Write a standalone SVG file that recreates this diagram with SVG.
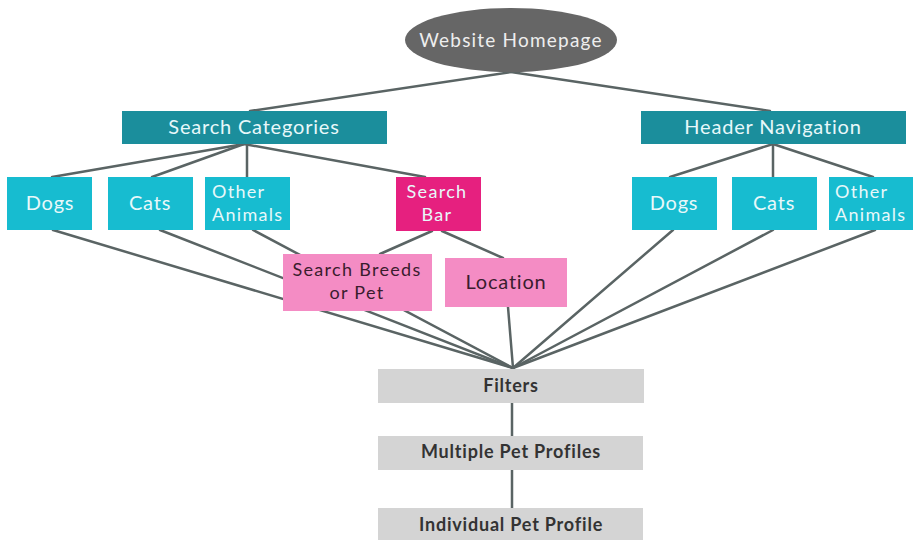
<svg xmlns="http://www.w3.org/2000/svg" width="913" height="540" viewBox="0 0 913 540">
<style>
.t{font-family:Lato,"Open Sans","Liberation Sans",sans-serif;}
.wt{fill:#e8f8fa;font-size:20px;letter-spacing:0.8px;}
.dk{fill:#3a1c2e;font-size:20px;letter-spacing:0.8px;}
.two{font-size:18px;letter-spacing:1.3px;}
.gr{fill:#333;font-size:18px;font-weight:bold;letter-spacing:0.8px;}
.dark{fill:#1b8e9c;}
.lt{fill:#17bcd0;}
.hp{fill:#e6207f;}
.lp{fill:#f48cc4;}
.gy{fill:#d4d4d4;}
.c line{stroke:#5a6464;stroke-width:2.5;stroke-linecap:round;}
</style>
<rect width="913" height="540" fill="#fff"/>
<g class="c" id="connectors">
<line x1="511" y1="72" x2="250" y2="111"/>
<line x1="511" y1="72" x2="770" y2="111"/>
<line x1="244" y1="144" x2="52" y2="177"/>
<line x1="244" y1="144" x2="152" y2="177"/>
<line x1="247" y1="144" x2="247" y2="177"/>
<line x1="244" y1="144" x2="425" y2="177"/>
<line x1="773" y1="144" x2="670" y2="177"/>
<line x1="773" y1="144" x2="773" y2="177"/>
<line x1="773" y1="144" x2="873" y2="177"/>
<line x1="432" y1="231" x2="380" y2="254"/>
<line x1="442" y1="231" x2="503" y2="258"/>
<line x1="53" y1="230" x2="513" y2="368"/>
<line x1="160" y1="230" x2="513" y2="368"/>
<line x1="253" y1="230" x2="513" y2="368"/>
<line x1="508" y1="307" x2="513" y2="368"/>
<line x1="673" y1="230" x2="513" y2="368"/>
<line x1="773" y1="230" x2="513" y2="368"/>
<line x1="875" y1="230" x2="513" y2="368"/>
<line x1="512" y1="403" x2="512" y2="436"/>
<line x1="512" y1="470" x2="512" y2="508"/>
</g>
<g id="homepage">
<ellipse cx="511" cy="40" rx="106" ry="32" fill="#666"/>
<text class="t" x="511" y="47" text-anchor="middle" fill="#eee" font-size="19" letter-spacing="1.2">Website Homepage</text>
</g>
<g id="search-categories">
<rect class="dark" x="122" y="111" width="265" height="33"/>
<text class="t wt" x="254" y="134" text-anchor="middle">Search Categories</text>
</g>
<g id="header-navigation">
<rect class="dark" x="641" y="111" width="265" height="33"/>
<text class="t wt" x="773" y="134" text-anchor="middle">Header Navigation</text>
</g>
<g id="sc-dogs">
<rect class="lt" x="7" y="177" width="85" height="53"/>
<text class="t wt" x="50" y="210" text-anchor="middle">Dogs</text>
</g>
<g id="sc-cats">
<rect class="lt" x="108" y="177" width="85" height="53"/>
<text class="t wt" x="150" y="210" text-anchor="middle">Cats</text>
</g>
<g id="sc-other">
<rect class="lt" x="205" y="177" width="85" height="53"/>
<text class="t wt two" x="212" y="198">Other</text>
<text class="t wt two" x="212" y="221">Animals</text>
</g>
<g id="search-bar">
<rect class="hp" x="396" y="177" width="85" height="54"/>
<text class="t wt two" x="437" y="198" text-anchor="middle">Search</text>
<text class="t wt two" x="437" y="221" text-anchor="middle">Bar</text>
</g>
<g id="hn-dogs">
<rect class="lt" x="632" y="177" width="85" height="53"/>
<text class="t wt" x="674" y="210" text-anchor="middle">Dogs</text>
</g>
<g id="hn-cats">
<rect class="lt" x="732" y="177" width="85" height="53"/>
<text class="t wt" x="774" y="210" text-anchor="middle">Cats</text>
</g>
<g id="hn-other">
<rect class="lt" x="829" y="177" width="84" height="53"/>
<text class="t wt two" x="835" y="198">Other</text>
<text class="t wt two" x="835" y="221">Animals</text>
</g>
<g id="search-breeds">
<rect class="lp" x="283" y="254" width="149" height="57"/>
<text class="t dk two" x="357" y="276" text-anchor="middle">Search Breeds</text>
<text class="t dk two" x="357" y="299" text-anchor="middle">or Pet</text>
</g>
<g id="location">
<rect class="lp" x="445" y="258" width="122" height="49"/>
<text class="t dk" x="506" y="289" text-anchor="middle">Location</text>
</g>
<g id="filters">
<rect class="gy" x="378" y="369" width="266" height="34"/>
<text class="t gr" x="511" y="392" text-anchor="middle">Filters</text>
</g>
<g id="multiple-pet-profiles">
<rect class="gy" x="378" y="436" width="265" height="34"/>
<text class="t gr" x="511" y="458" text-anchor="middle">Multiple Pet Profiles</text>
</g>
<g id="individual-pet-profile">
<rect class="gy" x="378" y="508" width="265" height="34"/>
<text class="t gr" x="511" y="531" text-anchor="middle">Individual Pet Profile</text>
</g>
</svg>
